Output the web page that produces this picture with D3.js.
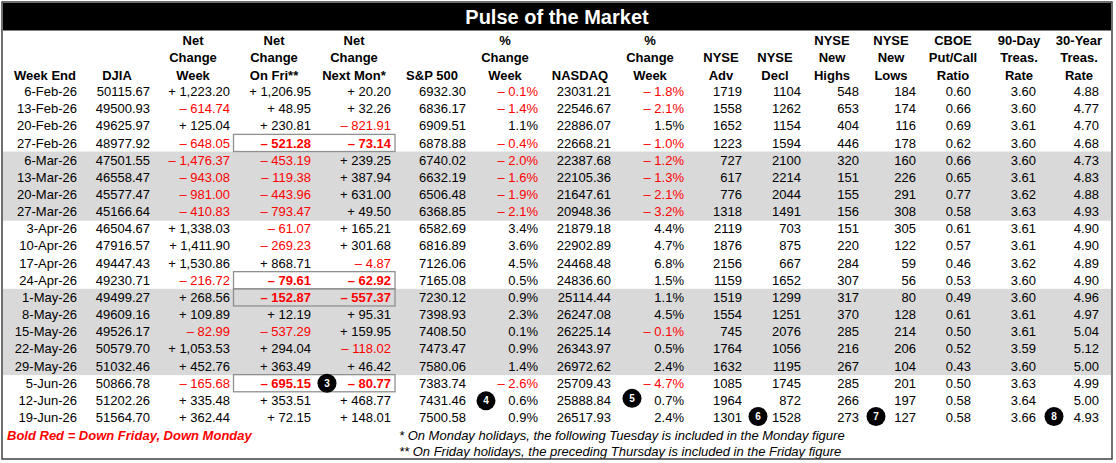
<!DOCTYPE html>
<html>
<head>
<meta charset="utf-8">
<script src="https://cdn.jsdelivr.net/npm/d3@7"></script>
<style>
  body { margin: 0; background: #fff; }
  svg text { font-family: Arial, "Liberation Sans", sans-serif; }
</style>
</head>
<body>
<svg id="chart"></svg>
<script>
// table data, one array per column
const weeks = ['6-Feb-26', '13-Feb-26', '20-Feb-26', '27-Feb-26', '6-Mar-26', '13-Mar-26', '20-Mar-26', '27-Mar-26',
  '3-Apr-26', '10-Apr-26', '17-Apr-26', '24-Apr-26', '1-May-26', '8-May-26', '15-May-26', '22-May-26', '29-May-26',
  '5-Jun-26', '12-Jun-26', '19-Jun-26'];
const djia = [50115.67, 49500.93, 49625.97, 48977.92, 47501.55, 46558.47, 45577.47, 45166.64, 46504.67, 47916.57,
  49447.43, 49230.71, 49499.27, 49609.16, 49526.17, 50579.70, 51032.46, 50866.78, 51202.26, 51564.70];
const netWeek = [1223.20, -614.74, 125.04, -648.05, -1476.37, -943.08, -981.00, -410.83, 1338.03, 1411.90,
  1530.86, -216.72, 268.56, 109.89, -82.99, 1053.53, 452.76, -165.68, 335.48, 362.44];
const netFri = [1206.95, 48.95, 230.81, -521.28, -453.19, -119.38, -443.96, -793.47, -61.07, -269.23,
  868.71, -79.61, -152.87, 12.19, -537.29, 294.04, 363.49, -695.15, 353.51, 72.15];
const netMon = [20.20, 32.26, -821.91, -73.14, 239.25, 387.94, 631.00, 49.50, 165.21, 301.68,
  -4.87, -62.92, -557.37, 95.31, 159.95, -118.02, 46.42, -80.77, 468.77, 148.01];
const sp500 = [6932.30, 6836.17, 6909.51, 6878.88, 6740.02, 6632.19, 6506.48, 6368.85, 6582.69, 6816.89,
  7126.06, 7165.08, 7230.12, 7398.93, 7408.50, 7473.47, 7580.06, 7383.74, 7431.46, 7500.58];
const spPct = [-0.1, -1.4, 1.1, -0.4, -2.0, -1.6, -1.9, -2.1, 3.4, 3.6, 4.5, 0.5, 0.9, 2.3, 0.1, 0.9, 1.4, -2.6, 0.6, 0.9];
const nasdaq = [23031.21, 22546.67, 22886.07, 22668.21, 22387.68, 22105.36, 21647.61, 20948.36, 21879.18, 22902.89,
  24468.48, 24836.60, 25114.44, 26247.08, 26225.14, 26343.97, 26972.62, 25709.43, 25888.84, 26517.93];
const nqPct = [-1.8, -2.1, 1.5, -1.0, -1.2, -1.3, -2.1, -3.2, 4.4, 4.7, 6.8, 1.5, 1.1, 4.5, -0.1, 0.5, 2.4, -4.7, 0.7, 2.4];
const nyseAdv = [1719, 1558, 1652, 1223, 727, 617, 776, 1318, 2119, 1876, 2156, 1159, 1519, 1554, 745, 1764, 1632, 1085, 1964, 1301];
const nyseDecl = [1104, 1262, 1154, 1594, 2100, 2214, 2044, 1491, 703, 875, 667, 1652, 1299, 1251, 2076, 1056, 1195, 1745, 872, 1528];
const newHighs = [548, 653, 404, 446, 320, 151, 155, 156, 151, 220, 284, 307, 317, 370, 285, 216, 267, 285, 266, 273];
const newLows = [184, 174, 116, 178, 160, 226, 291, 308, 305, 122, 59, 56, 80, 128, 214, 206, 104, 201, 197, 127];
const putCall = [0.60, 0.66, 0.69, 0.62, 0.66, 0.65, 0.77, 0.58, 0.61, 0.57, 0.46, 0.53, 0.49, 0.61, 0.50, 0.52, 0.43, 0.50, 0.58, 0.58];
const treas90 = [3.60, 3.60, 3.61, 3.60, 3.60, 3.61, 3.62, 3.63, 3.61, 3.61, 3.62, 3.60, 3.60, 3.61, 3.61, 3.59, 3.60, 3.63, 3.64, 3.66];
const treas30 = [4.88, 4.77, 4.70, 4.68, 4.73, 4.83, 4.88, 4.93, 4.90, 4.90, 4.89, 4.90, 4.96, 4.97, 5.04, 5.12, 5.00, 4.99, 5.00, 4.93];

// weeks where both Friday and Monday were down
const boldWeeks = ['27-Feb-26', '24-Apr-26', '1-May-26', '5-Jun-26'];
const shadedMonths = ['Mar', 'May'];
const callouts = [
  { n: 3, week: '5-Jun-26' }, { n: 4, week: '12-Jun-26' }, { n: 5, week: '12-Jun-26' },
  { n: 6, week: '19-Jun-26' }, { n: 7, week: '19-Jun-26' }, { n: 8, week: '19-Jun-26' }
];

const W = 1116, H = 463;
const RED = '#ff0000';

const fmtNet = v => (v < 0 ? '\u2013 ' : '+ ') + d3.format(',.2f')(Math.abs(v));
const fmtPct = v => (v < 0 ? '\u2013 ' : '') + d3.format('.1f')(Math.abs(v)) + '%';
const fmt2 = d3.format('.2f');
const fmtInt = d3.format('d');

const columns = [
  { head: ['Week End'], vals: weeks, fmt: d => d, hx: 45, rx: 77 },
  { head: ['DJIA'], vals: djia, fmt: fmt2, hx: 117, rx: 150 },
  { head: ['Net', 'Change', 'Week'], vals: netWeek, fmt: fmtNet, signed: true, hx: 193, rx: 230 },
  { head: ['Net', 'Change', 'On Fri**'], vals: netFri, fmt: fmtNet, signed: true, boxed: true, hx: 274, rx: 311 },
  { head: ['Net', 'Change', 'Next Mon*'], vals: netMon, fmt: fmtNet, signed: true, boxed: true, hx: 354, rx: 391 },
  { head: ['S&P 500'], vals: sp500, fmt: fmt2, hx: 432, rx: 466 },
  { head: ['%', 'Change', 'Week'], vals: spPct, fmt: fmtPct, signed: true, hx: 505, rx: 538 },
  { head: ['NASDAQ'], vals: nasdaq, fmt: fmt2, hx: 580, rx: 611 },
  { head: ['%', 'Change', 'Week'], vals: nqPct, fmt: fmtPct, signed: true, hx: 650, rx: 684 },
  { head: ['NYSE', 'Adv'], vals: nyseAdv, fmt: fmtInt, hx: 721, rx: 742 },
  { head: ['NYSE', 'Decl'], vals: nyseDecl, fmt: fmtInt, hx: 775, rx: 801 },
  { head: ['NYSE', 'New', 'Highs'], vals: newHighs, fmt: fmtInt, hx: 832, rx: 859 },
  { head: ['NYSE', 'New', 'Lows'], vals: newLows, fmt: fmtInt, hx: 891, rx: 916 },
  { head: ['CBOE', 'Put/Call', 'Ratio'], vals: putCall, fmt: fmt2, hx: 953, rx: 971 },
  { head: ['90-Day', 'Treas.', 'Rate'], vals: treas90, fmt: fmt2, hx: 1019, rx: 1036 },
  { head: ['30-Year', 'Treas.', 'Rate'], vals: treas30, fmt: fmt2, hx: 1079, rx: 1099 }
];
const calloutX = { 3: 327, 4: 486, 5: 632, 6: 758, 7: 876, 8: 1054 };
const calloutDy = { 3: 0, 4: 0.5, 5: -2, 6: -1, 7: -1, 8: -1 };

const svg = d3.select('#chart').attr('width', W).attr('height', H);

// rows
const y = d3.scaleBand().domain(weeks).range([82.9, 82.9 + 20 * 17.16]);
const yc = w => y(w) + y.bandwidth() / 2;

// shaded month bands
svg.append('g')
  .selectAll('rect')
  .data(weeks.filter(w => shadedMonths.includes(w.split('-')[1])))
  .enter()
  .append('rect')
  .attr('x', 3).attr('width', 1108)
  .attr('y', d => y(d)).attr('height', y.bandwidth() + 0.5)
  .style('fill', '#d9d9d9');

// title bar
svg.append('rect').attr('x', 3).attr('y', 3).attr('width', 1108).attr('height', 27.5).style('fill', '#000');
svg.append('text')
  .attr('x', 557).attr('y', 24)
  .attr('text-anchor', 'middle')
  .style('font-size', '20px').style('font-weight', 'bold').style('fill', '#fff')
  .text('Pulse of the Market');

// headers, bottom aligned
const headLineY = [40, 57.5, 75];
columns.forEach(col => {
  const off = 3 - col.head.length;
  col.head.forEach((h, i) => {
    svg.append('text')
      .attr('x', col.hx).attr('y', headLineY[off + i]).attr('dy', '0.35em')
      .attr('text-anchor', 'middle')
      .style('font-size', '13px').style('font-weight', 'bold')
      .text(h);
  });
});

// boxes around bold weeks
svg.append('g')
  .selectAll('rect')
  .data(boldWeeks)
  .enter()
  .append('rect')
  .attr('x', 233.5).attr('width', 395 - 233.5)
  .attr('y', d => y(d)).attr('height', y.bandwidth())
  .style('fill', 'none').style('stroke', '#909090').style('stroke-width', 1.3);

// cells
columns.forEach(col => {
  svg.append('g')
    .selectAll('text')
    .data(weeks)
    .enter()
    .append('text')
    .attr('x', col.rx)
    .attr('y', d => yc(d)).attr('dy', '0.35em')
    .attr('text-anchor', 'end')
    .style('font-size', '13px')
    .style('font-weight', d => col.boxed && boldWeeks.includes(d) ? 'bold' : 'normal')
    .style('fill', (d, i) => col.signed && col.vals[i] < 0 ? RED : '#000')
    .text((d, i) => col.fmt(col.vals[i]));
});

// numbered callouts
const cg = svg.append('g')
  .selectAll('g')
  .data(callouts)
  .enter()
  .append('g')
  .attr('transform', d => `translate(${calloutX[d.n]},${yc(d.week) + calloutDy[d.n]})`);
cg.append('circle').attr('r', 9.5).style('fill', '#000');
cg.append('text')
  .attr('text-anchor', 'middle').attr('dy', '0.35em')
  .style('font-size', '10px').style('font-weight', 'bold').style('fill', '#fff')
  .text(d => d.n);

// footnotes
svg.append('text')
  .attr('x', 7).attr('y', 435).attr('dy', '0.35em')
  .style('font-size', '13px').style('font-weight', 'bold').style('font-style', 'italic').style('fill', RED)
  .text('Bold Red = Down Friday, Down Monday');
svg.append('text')
  .attr('x', 399).attr('y', 435).attr('dy', '0.35em')
  .style('font-size', '13px').style('font-style', 'italic')
  .text('* On Monday holidays, the following Tuesday is included in the Monday figure');
svg.append('text')
  .attr('x', 399).attr('y', 451.5).attr('dy', '0.35em')
  .style('font-size', '13px').style('font-style', 'italic')
  .text('** On Friday holidays, the preceding Thursday is included in the Friday figure');

// outer frame
svg.append('rect')
  .attr('x', 2).attr('y', 2).attr('width', 1110).attr('height', 457)
  .style('fill', 'none').style('stroke', '#404040').style('stroke-width', 1.5);
</script>
</body>
</html>
